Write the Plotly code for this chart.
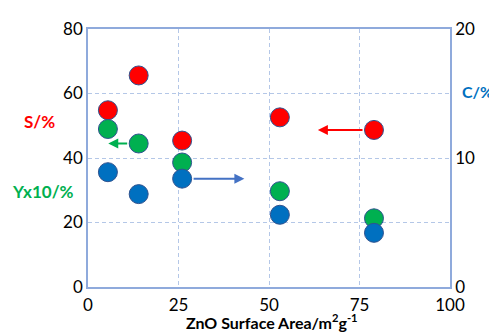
import plotly.graph_objects as go

area = [5.5, 14, 26, 53, 79]
s_pct = [54.8, 65.6, 45.4, 52.6, 48.7]
y10_pct = [49.0, 44.5, 38.6, 29.7, 21.3]
c_pct = [8.9, 7.2, 8.4, 5.6, 4.2]

x_ticks = [0, 25, 50, 75, 100]
y_ticks = [0, 20, 40, 60, 80]
y2_ticks = [0, 10, 20]

# arrows: (tail x, head x, y, axis, colour)
arrows = [
    (14, 5.6, 44.5, "y", "#00B050"),
    (79, 63.5, 48.7, "y", "#FF0000"),
    (26, 43.2, 8.4, "y2", "#4472C4"),
]

FONT = "Lato, 'Open Sans', sans-serif"
edge = dict(color="#2F528F", width=1)

# page body has an 8px margin; figure is sized to fill the rest
OFF = 8
W, H = 497 - OFF, 332 - OFF
L, R, T, B = 88 - OFF, 47, 18 - OFF, 45

fig = go.Figure()
fig.add_trace(go.Scatter(x=area, y=s_pct, mode="markers",
                         marker=dict(size=19, color="#FF0000", line=edge)))
fig.add_trace(go.Scatter(x=area, y=y10_pct, mode="markers",
                         marker=dict(size=19, color="#00B050", line=edge)))
fig.add_trace(go.Scatter(x=area, y=c_pct, mode="markers", yaxis="y2",
                         marker=dict(size=19, color="#0070C0", line=edge)))

for tail, head, yv, ax, col in arrows:
    fig.add_annotation(x=head, y=yv, ax=tail, ay=yv, xref="x", yref=ax,
                       axref="x", ayref=ax, showarrow=True, arrowhead=2,
                       arrowsize=1, arrowwidth=2, arrowcolor=col,
                       startstandoff=10, text="")

grid = dict(showgrid=True, gridcolor="#B4C7E7", griddash="4px,3px", gridwidth=1)
fig.update_layout(
    width=W, height=H,
    margin=dict(l=L, r=R, t=T, b=B),
    paper_bgcolor="white", plot_bgcolor="white",
    showlegend=False,
    font=dict(family=FONT, size=17, color="black"),
    xaxis=dict(range=[0, 100], tickvals=x_ticks, showline=True,
               linecolor="#8FAADC", linewidth=1.5, mirror=True,
               zeroline=False, ticks="", ticklabelstandoff=2, **grid),
    yaxis=dict(range=[0, 80], tickvals=y_ticks, showline=True,
               linecolor="#8FAADC", linewidth=1.5, zeroline=False,
               ticks="", **grid),
    yaxis2=dict(range=[0, 20], tickvals=y2_ticks, overlaying="y",
                side="right", showline=True, linecolor="#8FAADC",
                linewidth=1.5, showgrid=False, zeroline=False, ticks=""),
)

pw, ph = W - L - R, H - T - B
labels = [
    ("<b>S/%</b>", 39, 114, "#FF0000", 17),
    ("<b>Yx10/%</b>", 43, 187, "#00B050", 17),
    ("<b>C/%</b>", 477, 83, "#0070C0", 16),
    ("<b>ZnO Surface Area/m<sup>2</sup>g<sup>-1</sup></b>", 272, 323, "black", 16),
]
for txt, px, py, col, fs in labels:
    fig.add_annotation(text=txt, xref="paper", yref="paper",
                       x=(px - OFF - L) / pw,
                       y=(H - B - (py - OFF)) / ph,
                       showarrow=False, xanchor="center", yanchor="middle",
                       font=dict(family=FONT, size=fs, color=col))

fig.write_html("out.html")
